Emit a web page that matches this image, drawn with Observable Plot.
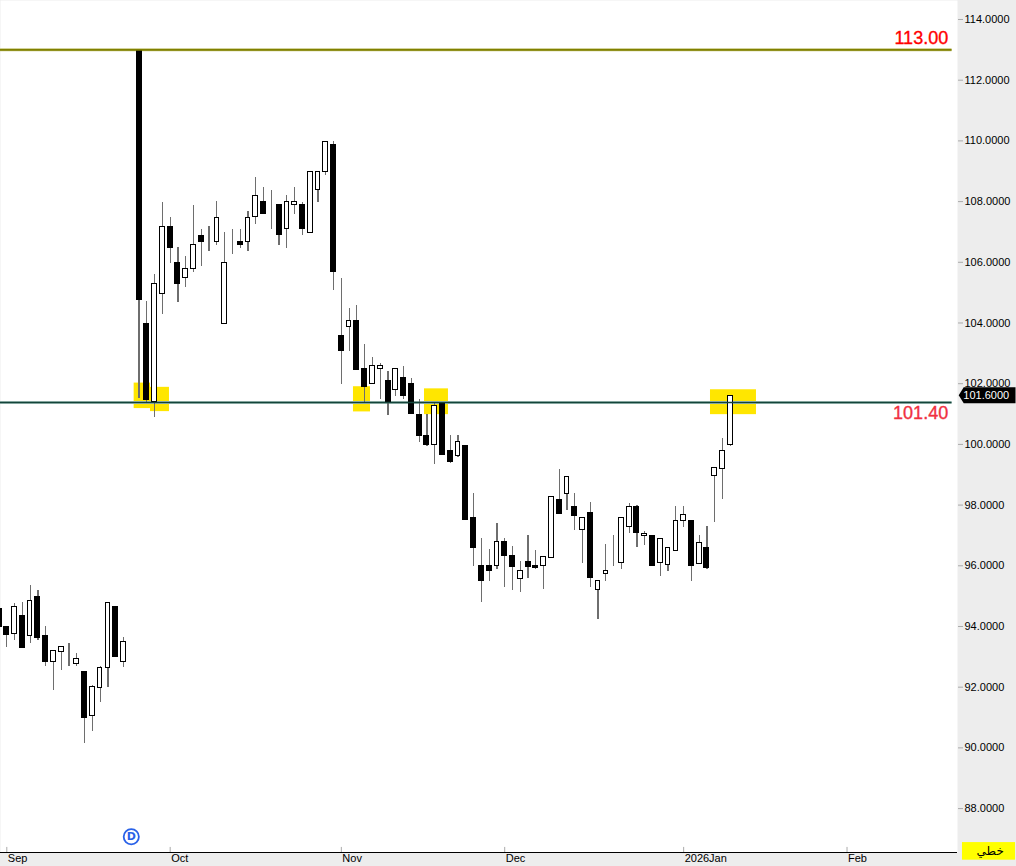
<!DOCTYPE html>
<html>
<head>
<meta charset="utf-8">
<script src="https://cdn.jsdelivr.net/npm/d3@7"></script>
<script src="https://cdn.jsdelivr.net/npm/@observablehq/plot@0.6"></script>
<style>
html,body{margin:0;padding:0;background:#ededed;}
svg{display:block;}
</style>
</head>
<body>
<div id="chart"></div>
<script>
const firstBar = -1;
const opens = [94.59,94.00,93.76,94.36,93.68,94.99,93.70,92.82,93.15,93.33,92.76,92.52,91.04,91.97,92.63,94.66,92.82,102.79,113,103.98,101.39,104.96,107.18,105.99,105.48,105.77,106.88,106.67,106.66,103.96,106.97,106.68,106.66,107.49,108.00,107.57,107.90,107.09,107.88,107.90,106.96,108.38,108.97,109.88,103.59,103.86,104.08,102.49,101.98,102.48,102.11,101.79,102.20,102.01,100.99,100.29,99.97,101.38,99.80,99.61,99.96,97.59,96.01,96.01,95.99,96.80,96.34,95.56,96.14,96.01,95.99,96.25,98.18,98.36,97.95,97.17,97.76,95.19,95.72,96.02,96.09,97.27,97.95,96.98,96.99,96.09,96.02,96.48,97.47,97.49,96.05,96.60,98.95,99.18,99.97];
const highs = [94.86,94.00,94.76,94.79,95.35,95.19,94.00,93.20,93.33,93.44,93.11,92.52,92.06,92.68,94.78,94.66,93.64,102.79,113,104.71,105.60,107.96,107.48,106.49,106.19,107.87,107.08,107.18,107.99,106.98,107.07,107.08,107.67,108.79,108.46,108.37,107.90,108.20,108.46,107.97,108.98,108.98,109.97,109.98,105.47,104.48,104.58,103.29,102.86,102.67,102.40,102.49,102.57,102.17,101.48,100.99,101.38,101.38,100.29,100.29,99.96,98.38,96.90,96.54,97.39,96.90,96.64,96.14,96.99,96.50,96.30,98.27,99.17,98.93,98.38,97.58,98.09,95.51,96.70,96.99,97.58,98.05,97.99,97.13,96.99,96.89,96.59,97.95,97.95,97.49,96.99,97.29,99.23,100.19,101.60];
const lows = [93.28,93.32,93.54,93.28,93.45,93.54,92.68,91.89,92.55,92.68,92.68,90.15,90.54,91.50,91.99,92.98,92.65,102.79,101.51,101.39,100.90,104.28,105.96,104.68,105.17,105.67,105.86,106.36,106.56,103.96,106.26,106.45,106.36,107.25,107.57,107.08,106.55,106.45,107.57,106.88,106.96,107.97,108.86,105.07,101.97,103.06,102.43,101.39,101.98,101.48,100.95,101.59,101.48,100.99,100.06,99.93,99.34,99.63,99.37,99.57,97.49,95.98,94.79,95.48,95.88,95.28,95.19,95.12,95.58,95.88,95.22,96.25,97.69,97.82,97.16,96.08,95.28,94.23,95.48,95.98,95.88,97.06,96.60,96.67,95.98,95.65,95.81,96.48,97.26,95.48,96.05,95.88,97.43,98.20,99.93];
const closes = [93.97,93.70,94.65,93.28,94.85,93.60,92.81,93.20,93.33,93.33,92.94,90.96,92.01,92.64,94.78,92.98,93.50,102.79,104.74,101.45,105.29,107.17,106.45,105.27,105.79,106.58,106.65,106.67,107.47,105.98,106.97,106.55,107.47,108.19,107.57,107.57,106.88,107.99,107.99,107.08,108.98,108.98,109.97,105.66,103.06,104.07,102.43,101.87,102.59,102.59,101.39,102.49,101.57,100.99,100.26,99.96,101.27,99.63,99.40,100.09,97.49,96.57,95.48,95.81,96.79,96.31,95.94,95.83,95.94,95.91,96.30,98.27,97.69,98.93,97.62,97.58,95.58,95.51,95.83,96.02,97.58,97.94,97.06,97.05,95.98,96.89,96.59,97.48,97.68,95.98,96.76,95.91,99.23,99.79,101.60];

const yTicks = [88,90,92,94,96,98,100,102,104,106,108,110,112,114];
const monthIndex = [0,21,43,64,87,108];
const monthLabels = ["Sep","Oct","Nov","Dec","2026Jan","Feb"];

const levels = [113, 101.38];
const levelColors = ["#808000","#14443a"];
const levelHalos = ["#c4c47a","#a8c6bf"];
const lastPrice = 101.6;
const lastPriceLabel = "101.6000";

const hlX1 = [16.37,18.47,44.56,53.69,90.45];
const hlX2 = [18.47,20.91,46.75,56.77,96.36];
const hlY1 = [101.18,101.08,101.07,100.98,100.98];
const hlY2 = [102.02,101.88,101.90,101.83,101.80];

const bars = opens.map((o,k)=>({i:firstBar+k,o,h:highs[k],l:lows[k],c:closes[k]}));
const up = bars.filter(b=>b.c>b.o);
const down = bars.filter(b=>b.c<b.o);
const flat = bars.filter(b=>b.c===b.o);
const highlights = hlX1.map((x,k)=>({x1:x,x2:hlX2[k],y1:hlY1[k],y2:hlY2[k]}));
const lineEnd = 121.5;
const sans = "'Liberation Sans',Arial,sans-serif";

const chart = Plot.plot({
  width:1016,height:866,
  marginLeft:0,marginRight:59,marginTop:0,marginBottom:14,
  x:{domain:[-0.81,122.2],range:[0,957],axis:null},
  y:{domain:[86.553,114.626],range:[852,0],axis:null},
  style:{background:"#ededed",fontFamily:sans,fontSize:"11px",color:"#000",overflow:"hidden"},
  marks:[
    Plot.frame({fill:"#fff",stroke:null}),
    Plot.rect(highlights,{x1:"x1",x2:"x2",y1:"y1",y2:"y2",fill:"#ffe600"}),
    Plot.ruleY(levels,{x1:-0.81,x2:lineEnd,stroke:(d,k)=>levelHalos[k],strokeWidth:3}),
    Plot.ruleX(bars,{x:"i",y1:"l",y2:"h",stroke:"#6e6e6e",strokeWidth:1.2,shapeRendering:"crispEdges"}),
    Plot.rect(flat,{x1:d=>d.i-0.37,x2:d=>d.i+0.37,y1:"c",y2:"c",stroke:"#6e6e6e",strokeWidth:1,shapeRendering:"crispEdges"}),
    Plot.rect(down,{x1:d=>d.i-0.385,x2:d=>d.i+0.385,y1:"o",y2:"c",fill:"#000",shapeRendering:"crispEdges"}),
    Plot.rect(up,{x1:d=>d.i-0.3,x2:d=>d.i+0.3,y1:"o",y2:"c",fill:"#fff",stroke:"#000",strokeWidth:1,shapeRendering:"crispEdges"}),
    Plot.ruleY(levels,{x1:-0.81,x2:lineEnd,stroke:(d,k)=>levelColors[k],strokeWidth:1.6}),
    Plot.text([113],{x:121,y:d=>d,text:()=>"113.00",fill:"#ff0000",stroke:"#ff0000",strokeWidth:0.35,dy:-12,textAnchor:"end",fontSize:18,fontFamily:sans}),
    Plot.text([101.38],{x:121,y:d=>d,text:()=>"101.40",fill:"#f0303f",stroke:"#f0303f",strokeWidth:0.35,dy:10.5,textAnchor:"end",fontSize:18,fontFamily:sans}),
    Plot.ruleY([86.553],{x1:-0.81,x2:122.2,stroke:"#000",strokeWidth:1}),
    Plot.ruleX(monthIndex,{y1:86.553,y2:86.72,stroke:"#aaa"}),
    Plot.axisY({anchor:"right",ticks:yTicks,tickFormat:d=>d.toFixed(4),tickSize:5,tickPadding:2,stroke:"#aaa",fill:"#000",fontSize:11,label:null}),
    Plot.axisX({anchor:"bottom",ticks:monthIndex,tickFormat:d=>monthLabels[monthIndex.indexOf(d)],tickSize:0,tickPadding:2,textAnchor:"start",dx:1,fill:"#000",fontSize:11,label:null}),
    Plot.dot([16],{x:d=>d,y:87.07,r:7.6,fill:"#fff",stroke:"#2a62e8",strokeWidth:1.8}),
    Plot.text([16],{x:d=>d,y:87.07,text:()=>"D",fill:"#2a62e8",fontWeight:"bold",fontSize:11,fontFamily:"'DejaVu Sans'"}),
    (index,scales,values,dim)=>{
      const y=scales.y(lastPrice), r=dim.width-0.5, t=958.7;
      const g=d3.create("svg:g");
      g.append("polygon").attr("fill","#000")
        .attr("points",[[t,y],[t+5,y-8],[r,y-8],[r,y+8],[t+5,y+8]].map(p=>p.join(",")).join(" "));
      return g.node();
    },
    Plot.text([lastPrice],{x:122.95,y:d=>d,text:()=>lastPriceLabel,fill:"#fff",textAnchor:"start",fontSize:11,fontFamily:sans}),
    Plot.rect([0],{x1:122.84,x2:129.66,y1:86.30,y2:86.88,fill:"#ffff00"}),
    Plot.text(["خطي"],{x:126.4,y:86.59,text:d=>d,fill:"#000",fontSize:12,fontFamily:"'DejaVu Sans'"})
  ]
});
document.getElementById("chart").append(chart);
</script>
</body>
</html>
